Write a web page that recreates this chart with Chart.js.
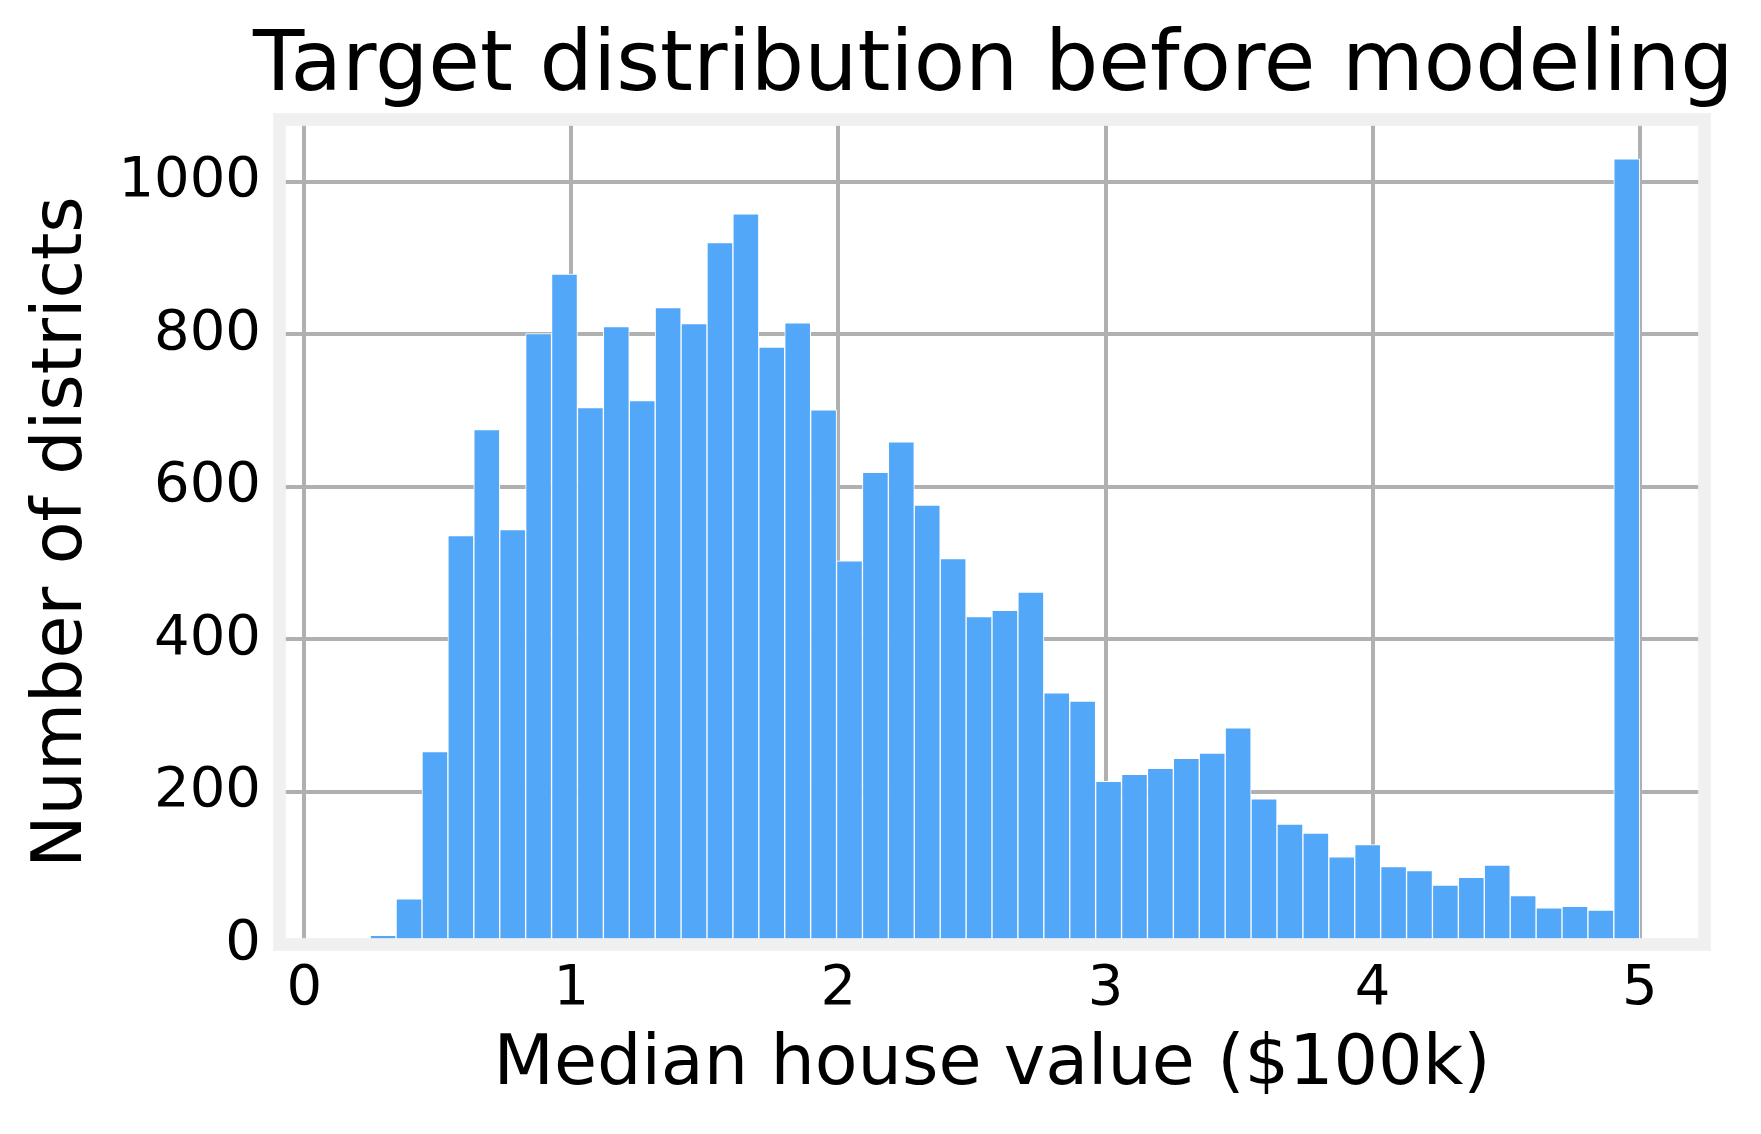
<!DOCTYPE html>
<html>
<head>
<meta charset="utf-8">
<title>Target distribution before modeling</title>
<script src="https://cdn.jsdelivr.net/npm/chart.js@4.4.1/dist/chart.umd.min.js"></script>
<style>
  html, body { margin: 0; padding: 0; background: #ffffff; }
  canvas { display: block; }
</style>
</head>
<body>
<canvas id="histChart" width="1761" height="1134"></canvas>
<script>
// Histogram of the target: 50 equal bins between binStart and binEnd
const binStart = 0.15;
const binEnd = 5.0;
const counts = [0, 12, 60, 253, 536, 675, 544, 801, 879, 704,
                810, 713, 835, 814, 920, 958, 783, 815, 701, 503,
                619, 659, 576, 506, 430, 438, 462, 330, 319, 214,
                223, 231, 244, 251, 284, 191, 158, 146, 115, 131,
                102, 97, 78, 88, 104, 64, 48, 50, 45, 1030];
const xTicks = [0, 1, 2, 3, 4, 5];
const yTicks = [0, 200, 400, 600, 800, 1000];

const FONT = "'DejaVu Sans', 'Liberation Sans', sans-serif";

// bin centres for the linear x axis
const binWidth = (binEnd - binStart) / counts.length;
const histData = counts.map((c, i) => ({ x: binStart + (i + 0.5) * binWidth, y: c }));

// white page behind, thick light grey spines drawn over the bars
const SPINE = 12.7;
const framePlugin = {
  id: 'frame',
  beforeDraw(chart) {
    const { ctx } = chart;
    ctx.save();
    ctx.fillStyle = '#ffffff';
    ctx.fillRect(0, 0, chart.width, chart.height);
    ctx.restore();
  },
  afterDatasetsDraw(chart) {
    const { ctx, chartArea: a } = chart;
    ctx.save();
    ctx.strokeStyle = '#f0f0f0';
    ctx.lineWidth = SPINE;
    ctx.strokeRect(a.left, a.top, a.right - a.left, a.bottom - a.top);
    ctx.restore();
  }
};

const ctx = document.getElementById('histChart').getContext('2d');
new Chart(ctx, {
  type: 'bar',
  data: {
    datasets: [{
      label: 'Districts',
      data: histData,
      backgroundColor: '#53a7f8',
      borderColor: '#ffffff',
      borderWidth: 1,
      barPercentage: 1.0,
      categoryPercentage: 1.0
    }]
  },
  options: {
    responsive: false,
    devicePixelRatio: 1,
    animation: false,
    layout: { padding: { left: 0, right: 27.5, top: 0, bottom: 0 } },
    plugins: {
      legend: { display: false },
      tooltip: { enabled: false },
      title: {
        display: true,
        align: 'end',
        text: 'Target distribution before modeling',
        color: '#000000',
        font: { family: FONT, size: 84, weight: 'normal', lineHeight: 1.2 },
        padding: { top: 17.6, bottom: 1.1 }
      }
    },
    scales: {
      x: {
        type: 'linear',
        offset: false,
        min: -0.0925,
        max: 5.2425,
        afterBuildTicks: s => { s.ticks = xTicks.map(v => ({ value: v })); },
        afterFit: s => { s.height = 189.5; },
        grid: { color: '#b0b0b0', lineWidth: 4, drawTicks: false, offset: false },
        border: { display: false },
        ticks: {
          color: '#000000',
          font: { family: FONT, size: 56 },
          padding: 11.5,
          maxRotation: 0,
          callback: v => String(v)
        },
        title: {
          display: true,
          text: 'Median house value ($100k)',
          color: '#000000',
          font: { family: FONT, size: 70, weight: 'normal', lineHeight: 1.2 },
          padding: { top: 0, bottom: 26.3 }
        }
      },
      y: {
        type: 'linear',
        position: 'left',
        min: 0,
        max: 1081.5,
        afterBuildTicks: s => { s.ticks = yTicks.map(v => ({ value: v })); },
        afterFit: s => { s.width = 279.5; },
        grid: { color: '#b0b0b0', lineWidth: 4, drawTicks: false },
        border: { display: false },
        ticks: {
          color: '#000000',
          font: { family: FONT, size: 56 },
          padding: 18.5,
          callback: v => String(v)
        },
        title: {
          display: true,
          text: 'Number of districts',
          color: '#000000',
          font: { family: FONT, size: 70, weight: 'normal', lineHeight: 1.2 },
          padding: { top: 20.5, bottom: 0 }
        }
      },
      // empty right-hand strip so the plot area stops where the frame does
      yRight: {
        type: 'linear',
        position: 'right',
        display: true,
        afterFit: s => { s.width = 29; },
        grid: { display: false },
        border: { display: false },
        ticks: { display: false }
      }
    }
  },
  plugins: [framePlugin]
});
</script>
</body>
</html>
